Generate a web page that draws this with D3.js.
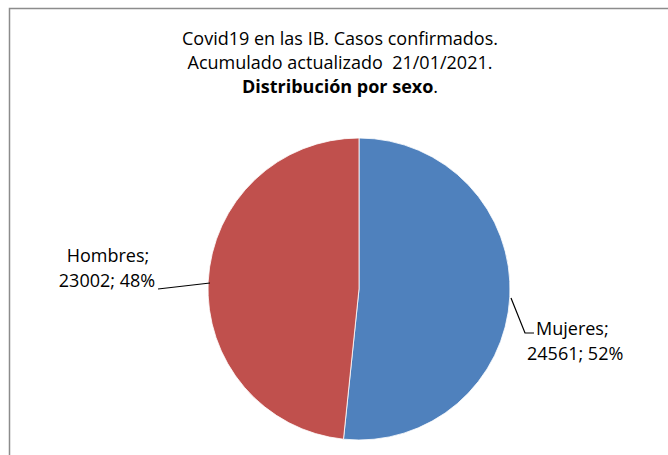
<!DOCTYPE html>
<html>
<head>
<meta charset="utf-8">
<script src="https://cdn.jsdelivr.net/npm/d3@7"></script>
<style>
  body { margin: 0; background: #fff; }
  text { font-family: "Open Sans", "Noto Sans", sans-serif; fill: #000; white-space: pre; }
</style>
</head>
<body>
<svg id="chart" width="668" height="455"></svg>
<script>
// data
const categories = ["Mujeres", "Hombres"];
const values = [24561, 23002];
const colors = ["#4F81BD", "#C0504D"];
const titleLines = ["Covid19 en las IB. Casos confirmados.", "Acumulado actualizado  21/01/2021."];

const svg = d3.select("#chart");
const width = 668, height = 455;

// chart frame (only top and left visible)
svg.append("path")
  .attr("d", "M9.5,455 L9.5,8.5 L668,8.5")
  .attr("fill", "none")
  .attr("stroke", "#8c8c8c")
  .attr("stroke-width", 1.5);

// title
const title = svg.append("text").attr("text-anchor", "middle").style("font-size", "18px");
title.append("tspan").attr("x", 340).attr("y", 45).text(titleLines[0]);
title.append("tspan").attr("x", 340).attr("y", 69).text(titleLines[1]);
const t3 = title.append("tspan").attr("x", 340).attr("y", 93);
t3.append("tspan").style("font-weight", "bold").text("Distribución por sexo");
t3.append("tspan").text(".");

// pie
const cx = 359, cy = 289, r = 151;
const data = categories.map((c, i) => ({ name: c, value: values[i], color: colors[i] }));
const total = d3.sum(values);
const pie = d3.pie().sort(null).value(d => d.value);
const arc = d3.arc().innerRadius(0).outerRadius(r);
const arcs = pie(data);

const g = svg.append("g").attr("transform", `translate(${cx},${cy})`);
g.selectAll("path.slice")
  .data(arcs)
  .join("path")
  .attr("class", "slice")
  .attr("d", arc)
  .attr("fill", d => d.data.color)
  .attr("stroke", "#fff")
  .attr("stroke-width", 0.8);

// labels with leader lines
const fmtPct = d => Math.round(d.value / total * 100) + "%";
const labelCfg = [
  { // Mujeres
    line: [[511, 298], [525, 333], [534, 333]],
    texts: [{ x: 536, y: 335, anchor: "start" }, { x: 527, y: 360, anchor: "start" }]
  },
  { // Hombres
    line: [[158, 289], [210, 283]],
    texts: [{ x: 108, y: 262, anchor: "middle" }, { x: 107, y: 287, anchor: "middle" }]
  }
];

arcs.forEach((a, i) => {
  const cfg = labelCfg[i];
  svg.append("path")
    .attr("d", d3.line()(cfg.line))
    .attr("fill", "none")
    .attr("stroke", "#000")
    .attr("stroke-width", 1.2);
  const lines = [a.data.name + ";", a.data.value + "; " + fmtPct(a.data)];
  lines.forEach((s, j) => {
    svg.append("text")
      .attr("x", cfg.texts[j].x)
      .attr("y", cfg.texts[j].y)
      .attr("text-anchor", cfg.texts[j].anchor)
      .style("font-size", "18px")
      .text(s);
  });
});
</script>
</body>
</html>
